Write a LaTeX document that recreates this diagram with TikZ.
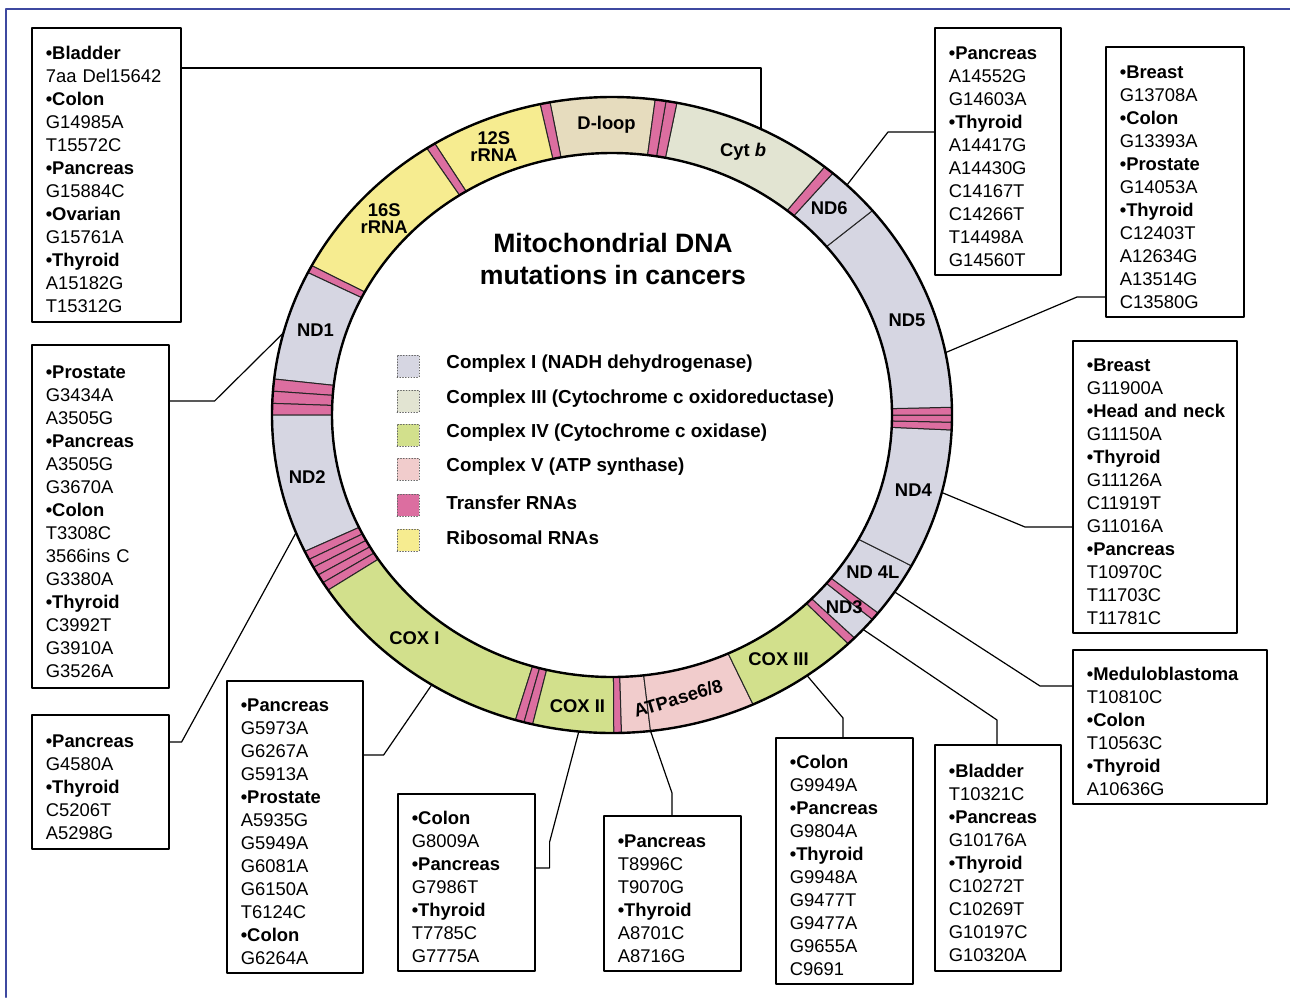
\documentclass[tikz,border=0pt]{standalone}
\usepackage{fontspec}
\setmainfont{Liberation Sans}
\usepackage{tikz}
\usetikzlibrary{positioning}

\definecolor{cI}{RGB}{214,214,226}
\definecolor{cIII}{RGB}{226,228,210}
\definecolor{cIV}{RGB}{210,224,140}
\definecolor{cV}{RGB}{241,204,204}
\definecolor{trna}{RGB}{220,110,160}
\definecolor{rrna}{RGB}{246,236,144}
\definecolor{dloop}{RGB}{230,220,190}
\definecolor{frameblue}{RGB}{62,72,160}

\newcommand{\gene}[3]{\filldraw[fill=#1,draw=black!85,line width=0.5pt] (#2:340 and 318) arc[start angle=#2,end angle=#3,x radius=340,y radius=318] -- (#3:280 and 262) arc[start angle=#3,end angle=#2,x radius=280,y radius=262] -- cycle;}

\begin{document}
\begin{tikzpicture}[line cap=round,line join=round,x=0.5pt,y=0.5pt,
  mbox/.style={draw,line width=0.8pt,anchor=north west,align=left,inner xsep=7pt,font=\fontsize{9.2}{11.5}\selectfont,execute at begin node=\rule{0pt}{11.5pt}},
  seglab/.style={font=\bfseries\fontsize{9.2}{8.5}\selectfont,align=center,inner sep=0pt},
  key/.style={draw=black!60,densely dotted,line width=0.4pt,minimum size=11pt,inner sep=0pt},
  keytext/.style={font=\bfseries\fontsize{9.4}{11}\selectfont,yshift=1pt},
  wire/.style={line width=0.6pt}]
\useasboundingbox (0,0) rectangle (1290,-997);
\draw[frameblue,line width=1.2pt] (6,-997) -- (6,-9) -- (1290,-9);

\begin{scope}[shift={(612,-415)}]
\gene{dloop}{82.7}{100.5}
\gene{trna}{100.5}{102.2}
\gene{rrna}{102.2}{121.4}
\gene{trna}{121.4}{123}
\gene{rrna}{123}{152}
\gene{trna}{152}{153.4}
\gene{cI}{153.4}{173.5}
\gene{trna}{173.5}{175.7}
\gene{trna}{175.7}{177.9}
\gene{trna}{177.9}{180}
\gene{cI}{180}{205.4}
\gene{trna}{205.4}{207}
\gene{trna}{207}{208.6}
\gene{trna}{208.6}{210.2}
\gene{trna}{210.2}{211.8}
\gene{trna}{211.8}{213.4}
\gene{cIV}{213.4}{253.5}
\gene{trna}{253.5}{255}
\gene{trna}{255}{256.5}
\gene{cIV}{256.5}{270.3}
\gene{trna}{270.3}{271.6}
\gene{cV}{271.6}{276.5}
\gene{cV}{276.5}{294.5}
\gene{cIV}{294.5}{314}
\gene{trna}{314}{315.5}
\gene{cI}{315.5}{320}
\gene{trna}{320}{321.5}
\gene{cI}{321.5}{331.7}
\gene{cI}{331.7}{357.3}
\gene{trna}{357.3}{358.7}
\gene{trna}{358.7}{360}
\gene{trna}{360}{361.4}
\gene{cI}{361.4}{400}
\gene{cI}{400}{409.5}
\gene{trna}{409.5}{411.3}
\gene{cIII}{411.3}{439}
\gene{trna}{439}{440.85}
\gene{trna}{440.85}{442.7}
\draw[line width=1.2pt] (0,0) ellipse[x radius=340,y radius=318];
\draw[line width=1.2pt] (0,0) ellipse[x radius=280,y radius=262];

\node[seglab] (lDloop) at (91:310 and 290) {D-loop};
\node[seglab] (lCytb) at (65:310 and 290) {Cyt \textit{b}};
\node[seglab] (lNDsix) at (45.5:310 and 290) {ND6};
\node[seglab] (lNDfive) at (19:312 and 292) {ND5};
\node[seglab] (lNDfour) at (345:312 and 292) {ND4};
\node[seglab] (lNDfourL) at (327.3:310 and 290) {ND 4L};
\node[seglab] (lNDthree) at (318.5:310 and 290) {ND3};
\node[seglab] (lCOXthree) at (302.5:310 and 290) {COX III};
\node[seglab,rotate=17] (lATPase) at (282.3:310 and 290) {ATPase6/8};
\node[seglab] (lCOXtwo) at (263.6:310 and 293) {COX II};
\node[seglab] (lCOXone) at (230.4:310 and 290) {COX I};
\node[seglab] (lNDtwo) at (192.4:312 and 290) {ND2};
\node[seglab] (lNDone) at (163:310 and 290) {ND1};
\node[seglab] (lSixteen) at (137.3:310 and 290) {16S\\rRNA};
\node[seglab] (lTwelve) at (112.4:310 and 290) {12S\\rRNA};

\coordinate (pCytb) at (64:340 and 318);
\coordinate (pNDsix) at (46.3:340 and 318);
\coordinate (pNDfive) at (11.3:340 and 318);
\coordinate (pNDfour) at (345.9:340 and 318);
\coordinate (pNDfourL) at (326.2:340 and 318);
\coordinate (pNDthree) at (317.6:340 and 318);
\coordinate (pCOXthree) at (305:340 and 318);
\coordinate (pATPase) at (276.5:340 and 318);
\coordinate (pCOXtwo) at (264.4:340 and 318);
\coordinate (pCOXone) at (238:340 and 318);
\coordinate (pNDtwo) at (201.7:340 and 318);
\coordinate (pNDone) at (165:340 and 318);
\end{scope}

\node[font=\bfseries\fontsize{13.3}{16}\selectfont,align=center] (title) at (613,-259) {Mitochondrial DNA\\mutations in cancers};

\node[key,fill=cI] (kI) at (408,-366) {};
\node[keytext,right=10pt of kI] (tI) {Complex I (NADH dehydrogenase)};
\node[key,fill=cIII] (kIII) at (408,-401) {};
\node[keytext,right=10pt of kIII] (tIII) {Complex III (Cytochrome c oxidoreductase)};
\node[key,fill=cIV] (kIV) at (408,-435) {};
\node[keytext,right=10pt of kIV] (tIV) {Complex IV (Cytochrome c oxidase)};
\node[key,fill=cV] (kV) at (408,-469) {};
\node[keytext,right=10pt of kV] (tV) {Complex V (ATP synthase)};
\node[key,fill=trna] (kT) at (408,-505) {};
\node[keytext,right=10pt of kT] (tT) {Transfer RNAs};
\node[key,fill=rrna] (kR) at (408,-540) {};
\node[keytext,right=10pt of kR] (tR) {Ribosomal RNAs};

\node[mbox,minimum width=74.5pt,minimum height=147pt,text width=60.5pt] (boxCytb) at (31,-27) {\textbf{•Bladder}\\7aa Del15642\\\textbf{•Colon}\\G14985A\\T15572C\\\textbf{•Pancreas}\\G15884C\\\textbf{•Ovarian}\\G15761A\\\textbf{•Thyroid}\\A15182G\\T15312G};
\node[mbox,minimum width=63pt,minimum height=123.5pt,text width=49pt] (boxNDsix) at (934,-27) {\textbf{•Pancreas}\\A14552G\\G14603A\\\textbf{•Thyroid}\\A14417G\\A14430G\\C14167T\\C14266T\\T14498A\\G14560T};
\node[mbox,minimum width=69pt,minimum height=135pt,text width=55pt] (boxNDfive) at (1105,-46) {\textbf{•Breast}\\G13708A\\\textbf{•Colon}\\G13393A\\\textbf{•Prostate}\\G14053A\\\textbf{•Thyroid}\\C12403T\\A12634G\\A13514G\\C13580G};
\node[mbox,minimum width=82pt,minimum height=146pt,text width=68pt] (boxNDfour) at (1072,-340) {\textbf{•Breast}\\G11900A\\\mbox{\textbf{•Head and neck}}\\G11150A\\\textbf{•Thyroid}\\G11126A\\C11919T\\G11016A\\\textbf{•Pancreas}\\T10970C\\T11703C\\T11781C};
\node[mbox,minimum width=97pt,minimum height=77pt,text width=83pt] (boxNDfourL) at (1072,-649) {\textbf{•Meduloblastoma}\\T10810C\\\textbf{•Colon}\\T10563C\\\textbf{•Thyroid}\\A10636G};
\node[mbox,minimum width=63pt,minimum height=113pt,text width=49pt] (boxNDthree) at (934,-744) {\textbf{•Bladder}\\T10321C\\\textbf{•Pancreas}\\G10176A\\\textbf{•Thyroid}\\C10272T\\C10269T\\G10197C\\G10320A};
\node[mbox,minimum width=68.5pt,minimum height=123pt,text width=54.5pt] (boxCOXthree) at (775,-737) {\textbf{•Colon}\\G9949A\\\textbf{•Pancreas}\\G9804A\\\textbf{•Thyroid}\\G9948A\\G9477T\\G9477A\\G9655A\\C9691};
\node[mbox,minimum width=68.5pt,minimum height=77.5pt,text width=54.5pt] (boxATPase) at (603,-815) {\textbf{•Pancreas}\\T8996C\\T9070G\\\textbf{•Thyroid}\\A8701C\\A8716G};
\node[mbox,minimum width=68.5pt,minimum height=88.5pt,text width=54.5pt] (boxCOXtwo) at (397,-793) {\textbf{•Colon}\\G8009A\\\textbf{•Pancreas}\\G7986T\\\textbf{•Thyroid}\\T7785C\\G7775A};
\node[mbox,minimum width=68pt,minimum height=146pt,text width=54pt] (boxCOXone) at (226,-680) {\textbf{•Pancreas}\\G5973A\\G6267A\\G5913A\\\textbf{•Prostate}\\A5935G\\G5949A\\G6081A\\G6150A\\T6124C\\\textbf{•Colon}\\G6264A};
\node[mbox,minimum width=68.5pt,minimum height=67pt,text width=54.5pt] (boxNDtwo) at (31,-714) {\textbf{•Pancreas}\\G4580A\\\textbf{•Thyroid}\\C5206T\\A5298G};
\node[mbox,minimum width=68.5pt,minimum height=171.5pt,text width=54.5pt] (boxNDone) at (31,-344) {\textbf{•Prostate}\\G3434A\\A3505G\\\textbf{•Pancreas}\\A3505G\\G3670A\\\textbf{•Colon}\\T3308C\\3566ins C\\G3380A\\\textbf{•Thyroid}\\C3992T\\G3910A\\G3526A};

\draw[wire] ([yshift=-20.5pt]boxCytb.north east) -| (pCytb);
\draw[wire] ([yshift=-52.5pt]boxNDsix.north west) -- ++(-46,0) -- (pNDsix);
\draw[wire] ([yshift=-125.5pt]boxNDfive.north west) -- ++(-28,0) -- (pNDfive);
\draw[wire] ([yshift=-93.5pt]boxNDfour.north west) -- ++(-47,0) -- (pNDfour);
\draw[wire] ([yshift=-18.5pt]boxNDfourL.north west) -- ++(-32,0) -- (pNDfourL);
\draw[wire] ([xshift=31.5pt]boxNDthree.north west) -- ++(0,24) -- (pNDthree);
\draw[wire] ([xshift=34pt]boxCOXthree.north west) -- ++(0,19) -- (pCOXthree);
\draw[wire] ([xshift=34.5pt]boxATPase.north west) -- ++(0,22) -- (pATPase);
\draw[wire] ([yshift=-37.5pt]boxCOXtwo.north east) -- ++(14,0) -- ++(0,26) -- (pCOXtwo);
\draw[wire] ([yshift=-37.5pt]boxCOXone.north east) -- ++(20,0) -- (pCOXone);
\draw[wire] ([yshift=-14pt]boxNDtwo.north east) -- ++(12,0) -- (pNDtwo);
\draw[wire] ([yshift=-28.5pt]boxNDone.north east) -- ++(45,0) -- (pNDone);
\end{tikzpicture}
\end{document}
